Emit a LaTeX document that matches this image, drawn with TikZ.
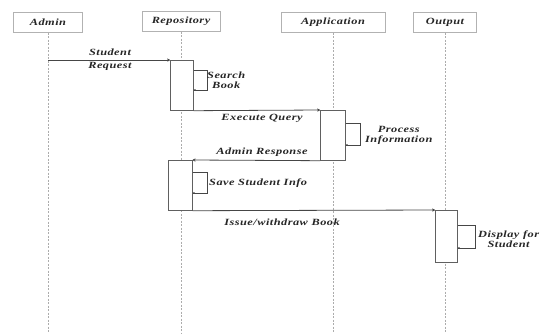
\documentclass[tikz,border=0pt]{standalone}
\usepackage{fontspec}
\setmainfont{Liberation Serif}
\newfontfamily\lblfont[FakeStretch=1.3,LetterSpace=5]{Liberation Serif}
\usetikzlibrary{arrows.meta,calc}
\begin{document}
\begin{tikzpicture}[x=1pt,y=-1pt,
  head/.style={draw=gray!60,line width=1pt,inner sep=0pt,minimum height=20,font=\lblfont\bfseries\itshape\fontsize{9.5}{10}\selectfont,text=black!85},
  life/.style={draw=gray!65,dash pattern=on 2pt off 1.5pt,line width=0.8pt},
  act/.style={draw=gray!75!black,fill=white,line width=0.7pt,inner sep=0pt,anchor=north west},
  msg/.style={draw=gray!55!black,line width=0.8pt,-{To[length=3pt,width=3pt]}},
  selfc/.style={draw=gray!55!black,line width=0.7pt,-{To[length=2pt,width=2pt]}},
  lbl/.style={font=\lblfont\bfseries\itshape\fontsize{9.5}{10}\selectfont,inner sep=1pt,text=black!85}]
\useasboundingbox (0,0) rectangle (548,333);
% heads
\node[head,minimum width=69] (admin) at (48,22) {Admin};
\node[head,minimum width=78] (repo) at (181,21) {Repository};
\node[head,minimum width=104] (app) at (333,22) {Application};
\node[head,minimum width=63] (out) at (445,22) {Output};
% lifelines
\coordinate (aend) at (48,333);
\coordinate (rend) at (181,333);
\coordinate (pend) at (333,333);
\coordinate (oend) at (445,333);
\draw[life] (admin.south) -- (aend);
\draw[life] (repo.south) -- (rend);
\draw[life] (app.south) -- (pend);
\draw[life] (out.south) -- (oend);
% activations
\node[act,minimum width=23,minimum height=50] (r1) at (170,60) {};
\node[act,minimum width=25,minimum height=50] (p1) at (320,110) {};
\node[act,minimum width=24,minimum height=50] (r2) at (168,160) {};
\node[act,minimum width=22,minimum height=52] (o1) at (435,210) {};
% messages
\draw[msg] (r1.north west -| admin) -- (r1.north west);
\node[lbl,align=center] (m1) at (110,60) {Student\\[3pt]Request};
\draw[msg] (r1.south east) -- (p1.north west);
\node[lbl] (m2) at (262,118) {Execute Query};
\draw[msg] (p1.south west) -- (r2.north east);
\node[lbl] (m3) at (262,152) {Admin Response};
\draw[msg] (r2.south east) -- (o1.north west);
\node[lbl] (m4) at (282,222) {Issue/withdraw Book};
% self calls
\coordinate (s1a) at (207,70); \coordinate (s1b) at (207,90);
\draw[selfc] ($(r1.north east)+(0,10)$) -- (s1a) -- (s1b) -- ($(r1.north east)+(0,30)$);
\node[lbl,align=center,anchor=west] (l1) at (206,80) {Search\\Book};
\coordinate (s2a) at (360,123); \coordinate (s2b) at (360,145);
\draw[selfc] ($(p1.north east)+(0,13)$) -- (s2a) -- (s2b) -- ($(p1.north east)+(0,35)$);
\node[lbl,align=center,anchor=west] (l2) at (364,135) {Process\\Information};
\coordinate (s3a) at (207,172); \coordinate (s3b) at (207,193);
\draw[selfc] ($(r2.north east)+(0,12)$) -- (s3a) -- (s3b) -- ($(r2.north east)+(0,33)$);
\node[lbl,anchor=west] (l3) at (208,183) {Save Student Info};
\coordinate (s4a) at (475,225); \coordinate (s4b) at (475,248);
\draw[selfc] ($(o1.north east)+(0,15)$) -- (s4a) -- (s4b) -- ($(o1.north east)+(0,38)$);
\node[lbl,align=center,anchor=west] (l4) at (477,239) {Display for\\Student};
\end{tikzpicture}
\end{document}
